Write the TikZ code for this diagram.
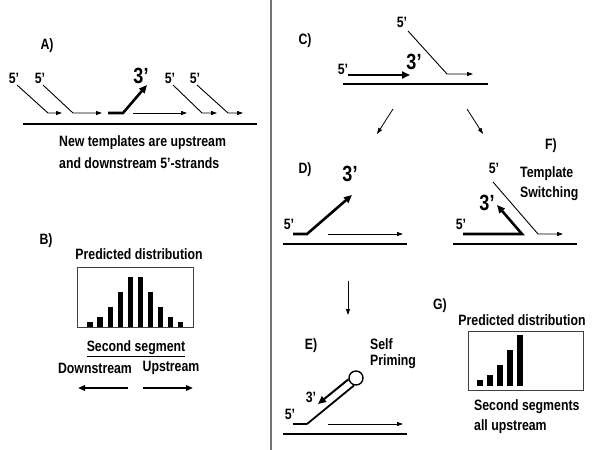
\documentclass[tikz,border=0pt]{standalone}
\usepackage{fontspec}
\setmainfont{Liberation Sans}[FakeStretch=0.82]
\usetikzlibrary{arrows.meta}
\begin{document}
\begin{tikzpicture}[x=1pt,y=-1pt,
  lab/.style={font=\bfseries\fontsize{15}{17}\selectfont, inner sep=0pt},
  big/.style={font=\bfseries\fontsize{22}{24}\selectfont, inner sep=0pt},
  strand/.style={line width=0.9pt, -{Triangle[length=6pt,width=4pt]}},
  fat/.style={line width=2.6pt, -{Triangle[length=8pt,width=7pt]}},
  tmpl/.style={line width=1.1pt},
  flow/.style={line width=0.8pt, -{Triangle[length=6pt,width=4pt]}},
  box/.style={draw=black!75, line width=0.8pt},
  bar/.style={fill=black}]
\useasboundingbox (0,0) rectangle (600,450);
% divider
\draw[black!55, line width=1.6pt] (271,0) -- (271,450);

% ---------- A ----------
\node[lab] (la) at (47,46) {A)};
\draw[tmpl] (23,124) -- (257,124);
\node[lab] (a5a) at (14,78) {5’};
\node[lab] (a5b) at (40,78) {5’};
\node[lab] (a5c) at (170,78) {5’};
\node[lab] (a5d) at (195,78) {5’};
\node[big] (a3) at (141,76) {3’};
\draw[strand] (17,85) -- (48,113) -- (62,113);
\draw[strand] (43,85) -- (73,113) -- (102,113);
\draw[fat] (108,113) -- (123,113) -- (147,85);
\draw[strand] (133,113) -- (187,113);
\draw[strand] (173,85) -- (202,113) -- (217,113);
\draw[strand] (197,85) -- (228,113) -- (243,113);
\node[lab, anchor=west] (at1) at (59,143) {New templates are upstream};
\node[lab, anchor=west] (at2) at (59,163) {and downstream 5’-strands};

% ---------- B ----------
\node[lab] (lb) at (46,241) {B)};
\node[lab] (bpd) at (139,254) {Predicted distribution};
\draw[box] (77,267) rectangle (193,327);
\foreach \x/\h in {90/5,100/10,110.5/20,120.5/35,130.5/50,140.5/50,150.5/35,160.5/20,170.5/10,180.5/5}
  \fill[bar] (\x-2.75,327) rectangle (\x+2.75,327-\h);
\node[lab] (bss) at (136,349) {\underline{Second segment}};
\node[lab] (bdn) at (95,368) {Downstream};
\node[lab] (bup) at (171,368) {Upstream};
\draw[fat, line width=1.8pt, -{Triangle[length=7pt,width=5.5pt]}] (128,388) -- (78,388);
\draw[fat, line width=1.8pt, -{Triangle[length=7pt,width=5.5pt]}] (143,388) -- (193,388);

% ---------- C ----------
\node[lab] (lc) at (305,41) {C)};
\node[lab] (c5t) at (402,22) {5’};
\node[lab] (c5l) at (343,69) {5’};
\node[big] (c3) at (414,62) {3’};
\draw[strand] (408,31) -- (447,74) -- (473,74);
\draw[fat] (348,75) -- (410,75);
\draw[tmpl] (343,84) -- (488,84);
\draw[flow] (393,109) -- (377,134);
\draw[flow] (467,109) -- (483,134);

% ---------- D ----------
\node[lab] (ld) at (305,170) {D)};
\node[big] (d3) at (350,174) {3’};
\node[lab] (d5) at (289,224) {5’};
\draw[fat] (293,234) -- (307,234) -- (352,195);
\draw[strand] (328,234) -- (403,234);
\draw[tmpl] (283,244) -- (407,244);
\draw[flow] (348,281) -- (348,315);

% ---------- F ----------
\node[lab] (lf) at (551,146) {F)};
\node[lab] (f5t) at (494,168) {5’};
\node[lab, anchor=west] (ft1) at (520,174) {Template};
\node[lab, anchor=west] (ft2) at (520,194) {Switching};
\node[big] (f3) at (487,203) {3’};
\node[lab] (f5l) at (461,224) {5’};
\draw[strand] (493,182) -- (538,234) -- (563,234);
\draw[fat] (463,234) -- (522,234) -- (497,205);
\draw[tmpl] (453,244) -- (577,244);

% ---------- E ----------
\node[lab] (le) at (311,346) {E)};
\node[lab, anchor=west] (es1) at (370,344) {Self};
\node[lab, anchor=west] (es2) at (370,362) {Priming};
\node[circle, draw, line width=1.4pt, minimum size=14pt, inner sep=0pt] (loop) at (356,378) {};
\node[lab] (e3) at (311,397) {3’};
\node[lab] (e5) at (290,414) {5’};
\draw[line width=2.6pt] (293,424) -- (307,424);
\draw[line width=1.8pt] (307,424) -- (loop.255);
\draw[fat, line width=2pt] (loop.190) -- (318,404);
\draw[strand] (328,424) -- (403,424);
\draw[tmpl] (283,434) -- (407,434);

% ---------- G ----------
\node[lab] (lg) at (440,306) {G)};
\node[lab] (gpd) at (522,320) {Predicted distribution};
\draw[box] (468,331) rectangle (583,390);
\foreach \x/\t in {480/380,490/375,500/365,510/350,520/335}
  \fill[bar] (\x-2.75,386) rectangle (\x+2.75,\t);
\node[lab, anchor=west] (gs1) at (474,407) {Second segments};
\node[lab, anchor=west] (gs2) at (474,427) {all upstream};
\end{tikzpicture}
\end{document}
